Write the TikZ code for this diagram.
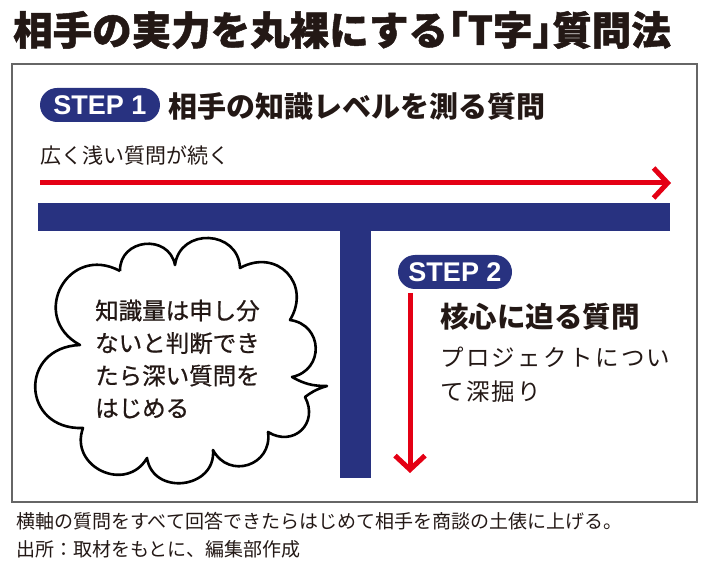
\documentclass[tikz,border=0pt]{standalone}
\usepackage{fontspec}
\setsansfont{Liberation Sans}
\newfontfamily\jp{Noto Sans CJK JP}
\newfontfamily\jpt[BoldFeatures={FakeBold=1.2}]{Noto Sans CJK JP}
\newfontfamily\jpm[FakeBold=0.8]{Noto Sans CJK JP}
\usetikzlibrary{arrows.meta}
\definecolor{tnavy}{RGB}{40,50,128}
\definecolor{tred}{RGB}{228,0,20}
\definecolor{tink}{RGB}{35,24,21}
\begin{document}
\begin{tikzpicture}[x=1pt,y=-1pt,text=tink,
	badge/.style={fill=tnavy,text=white,rounded corners=17pt,minimum height=34pt,inner sep=0pt,font=\sffamily\bfseries\fontsize{27}{27}\selectfont},
	label/.style={anchor=west,inner sep=0pt,align=left},
	redarrow/.style={draw=tred,line width=5pt,-{Straight Barb[length=14pt,width=30pt]}},
	bump/.style={bend left=#1,looseness=1.5}]
	\useasboundingbox (0,0) rectangle (710,564);
	\node[label,font=\jpt\bfseries\fontsize{39.5}{39.5}\selectfont] (title) at (13,30) {相手の実力を丸裸にする｢T字｣質問法};
	\draw[gray!80!black,line width=1.2pt] (12,64) rectangle (697,502);
	\node[badge,minimum width=120pt] (step1) at (100,105) {STEP 1};
	\node[label,font=\jp\bfseries\fontsize{29}{29}\selectfont] (q1) at (168,106) {相手の知識レベルを測る質問};
	\node[label,font=\jp\fontsize{21}{21}\selectfont] (q1note) at (40,156) {広く浅い質問が続く};
	\coordinate (h0) at (40,183);
	\coordinate (h1) at (671,183);
	\draw[redarrow] (h0) -- (h1);
	\fill[tnavy] (38,203) rectangle (670,231);
	\fill[tnavy] (340,229) rectangle (371,478);
	\node[badge,minimum width=114pt] (step2) at (455,272) {STEP 2};
	\coordinate (v0) at (410,293);
	\coordinate (v1) at (410,473);
	\draw[redarrow] (v0) -- (v1);
	\node[label,font=\jp\bfseries\fontsize{28.5}{28.5}\selectfont] (q2) at (440,317) {核心に迫る質問};
	\node[label,font=\jp\addfontfeature{LetterSpace=10}\fontsize{23.5}{34}\selectfont] (q2note) at (440,375) {プロジェクトについ\\て深掘り};
	\draw[line width=2.6pt,line join=round] (120,271) to[bump=85] (175,265) to[bump=85] (240,268) to[bump=75] (290,320)
		to[bump=80] (292,377) to[bend right=15] (327,386) to[bend right=10] (305,397) to[bump=75] (268,432)
		to[bump=80] (213,450) to[bump=88] (147,458) to[bump=85] (83,428) to[bump=90,looseness=1.9] (80,345) to[bump=90,looseness=1.8] (120,271);
	\node[label,font=\jpm\fontsize{23.5}{32.5}\selectfont] (cloud) at (95,359) {知識量は申し分\\ないと判断でき\\たら深い質問を\\はじめる};
	\node[label,font=\jp\fontsize{19}{19}\selectfont] (note) at (16,521) {横軸の質問をすべて回答できたらはじめて相手を商談の土俵に上げる。};
	\node[label,font=\jp\fontsize{19}{19}\selectfont] (source) at (16,549) {出所：取材をもとに、編集部作成};
\end{tikzpicture}
\end{document}
